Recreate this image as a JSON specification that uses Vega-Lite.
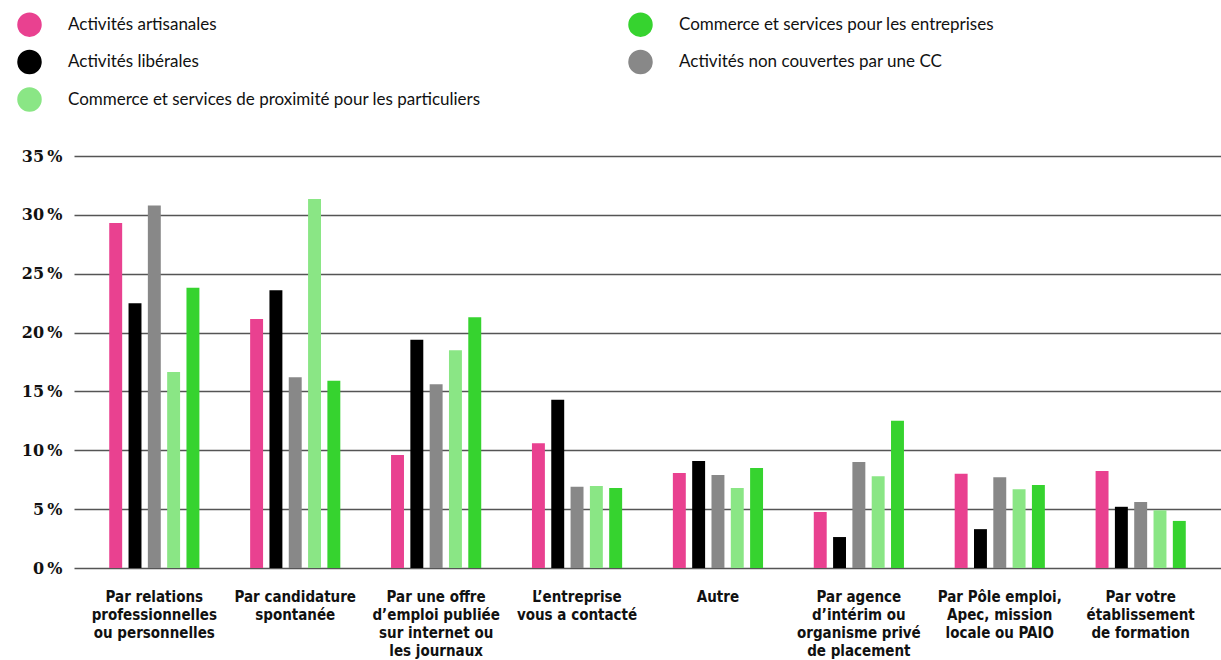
{
  "$schema": "https://vega.github.io/schema/vega-lite/v6.json",
  "width": 1147,
  "height": 412,
  "autosize": "none",
  "padding": {"left": 74, "top": 156, "right": 0, "bottom": 92},
  "background": "white",
  "config": {"view": {"stroke": null}},
  "datasets": {
    "d": [
      {"cat": "Par relations|professionnelles|ou personnelles", "serie": "Activités artisanales", "v": 29.3},
      {"cat": "Par relations|professionnelles|ou personnelles", "serie": "Activités libérales", "v": 22.5},
      {"cat": "Par relations|professionnelles|ou personnelles", "serie": "Activités non couvertes par une CC", "v": 30.8},
      {"cat": "Par relations|professionnelles|ou personnelles", "serie": "Commerce et services de proximité pour les particuliers", "v": 16.65},
      {"cat": "Par relations|professionnelles|ou personnelles", "serie": "Commerce et services pour les entreprises", "v": 23.8},
      {"cat": "Par candidature|spontanée", "serie": "Activités artisanales", "v": 21.15},
      {"cat": "Par candidature|spontanée", "serie": "Activités libérales", "v": 23.6},
      {"cat": "Par candidature|spontanée", "serie": "Activités non couvertes par une CC", "v": 16.2},
      {"cat": "Par candidature|spontanée", "serie": "Commerce et services de proximité pour les particuliers", "v": 31.35},
      {"cat": "Par candidature|spontanée", "serie": "Commerce et services pour les entreprises", "v": 15.9},
      {"cat": "Par une offre|d’emploi publiée|sur internet ou|les journaux", "serie": "Activités artisanales", "v": 9.6},
      {"cat": "Par une offre|d’emploi publiée|sur internet ou|les journaux", "serie": "Activités libérales", "v": 19.4},
      {"cat": "Par une offre|d’emploi publiée|sur internet ou|les journaux", "serie": "Activités non couvertes par une CC", "v": 15.6},
      {"cat": "Par une offre|d’emploi publiée|sur internet ou|les journaux", "serie": "Commerce et services de proximité pour les particuliers", "v": 18.5},
      {"cat": "Par une offre|d’emploi publiée|sur internet ou|les journaux", "serie": "Commerce et services pour les entreprises", "v": 21.3},
      {"cat": "L’entreprise|vous a contacté", "serie": "Activités artisanales", "v": 10.6},
      {"cat": "L’entreprise|vous a contacté", "serie": "Activités libérales", "v": 14.3},
      {"cat": "L’entreprise|vous a contacté", "serie": "Activités non couvertes par une CC", "v": 6.9},
      {"cat": "L’entreprise|vous a contacté", "serie": "Commerce et services de proximité pour les particuliers", "v": 6.97},
      {"cat": "L’entreprise|vous a contacté", "serie": "Commerce et services pour les entreprises", "v": 6.8},
      {"cat": "Autre", "serie": "Activités artisanales", "v": 8.07},
      {"cat": "Autre", "serie": "Activités libérales", "v": 9.1},
      {"cat": "Autre", "serie": "Activités non couvertes par une CC", "v": 7.9},
      {"cat": "Autre", "serie": "Commerce et services de proximité pour les particuliers", "v": 6.8},
      {"cat": "Autre", "serie": "Commerce et services pour les entreprises", "v": 8.5},
      {"cat": "Par agence|d’intérim ou|organisme privé|de placement", "serie": "Activités artisanales", "v": 4.76},
      {"cat": "Par agence|d’intérim ou|organisme privé|de placement", "serie": "Activités libérales", "v": 2.63},
      {"cat": "Par agence|d’intérim ou|organisme privé|de placement", "serie": "Activités non couvertes par une CC", "v": 9.0},
      {"cat": "Par agence|d’intérim ou|organisme privé|de placement", "serie": "Commerce et services de proximité pour les particuliers", "v": 7.8},
      {"cat": "Par agence|d’intérim ou|organisme privé|de placement", "serie": "Commerce et services pour les entreprises", "v": 12.5},
      {"cat": "Par Pôle emploi,|Apec, mission|locale ou PAIO", "serie": "Activités artisanales", "v": 8.0},
      {"cat": "Par Pôle emploi,|Apec, mission|locale ou PAIO", "serie": "Activités libérales", "v": 3.3},
      {"cat": "Par Pôle emploi,|Apec, mission|locale ou PAIO", "serie": "Activités non couvertes par une CC", "v": 7.7},
      {"cat": "Par Pôle emploi,|Apec, mission|locale ou PAIO", "serie": "Commerce et services de proximité pour les particuliers", "v": 6.7},
      {"cat": "Par Pôle emploi,|Apec, mission|locale ou PAIO", "serie": "Commerce et services pour les entreprises", "v": 7.05},
      {"cat": "Par votre|établissement|de formation", "serie": "Activités artisanales", "v": 8.24},
      {"cat": "Par votre|établissement|de formation", "serie": "Activités libérales", "v": 5.2},
      {"cat": "Par votre|établissement|de formation", "serie": "Activités non couvertes par une CC", "v": 5.6},
      {"cat": "Par votre|établissement|de formation", "serie": "Commerce et services de proximité pour les particuliers", "v": 4.9},
      {"cat": "Par votre|établissement|de formation", "serie": "Commerce et services pour les entreprises", "v": 4.0}
    ]
  },
  "data": {"name": "d"},
  "mark": {"type": "bar"},
  "encoding": {
    "x": {
      "field": "cat",
      "type": "nominal",
      "sort": null,
      "title": null,
      "scale": {"paddingInner": 0.36, "paddingOuter": 0.25},
      "axis": {
        "labelAngle": 0,
        "labelExpr": "split(datum.value, '|')",
        "labelFont": "Liberation Sans Narrow, DejaVu Sans Condensed, sans-serif",
        "labelFontWeight": "bold",
        "labelFontSize": 15,
        "labelLineHeight": 18,
        "labelColor": "#111111",
        "labelPadding": 21,
        "labelBaseline": "top",
        "ticks": false,
        "domain": false
      }
    },
    "xOffset": {
      "field": "serie",
      "type": "nominal",
      "sort": ["Activités artisanales", "Activités libérales", "Activités non couvertes par une CC", "Commerce et services de proximité pour les particuliers", "Commerce et services pour les entreprises"],
      "scale": {"paddingInner": 0.33, "paddingOuter": 0}
    },
    "y": {
      "field": "v",
      "type": "quantitative",
      "title": null,
      "scale": {"domain": [0, 35], "nice": false},
      "axis": {
        "values": [0, 5, 10, 15, 20, 25, 30, 35],
        "labelExpr": "datum.value + '\u2009%'",
        "labelFont": "DejaVu Serif",
        "labelFontWeight": "bold",
        "labelFontSize": 16,
        "labelColor": "#111111",
        "labelPadding": 12,
        "ticks": false,
        "domain": false,
        "grid": true,
        "gridColor": "#555555",
        "gridWidth": 1.5
      }
    },
    "color": {
      "field": "serie",
      "type": "nominal",
      "scale": {
        "domain": ["Activités artisanales", "Activités libérales", "Commerce et services de proximité pour les particuliers", "Commerce et services pour les entreprises", "Activités non couvertes par une CC"],
        "range": ["#e94190", "#000000", "#8ae685", "#36d32f", "#888888"]
      },
      "legend": {
        "title": null,
        "orient": "none",
        "legendX": -57,
        "legendY": -144,
        "columns": 2,
        "columnPadding": 147,
        "rowPadding": 12.5,
        "symbolType": "circle",
        "symbolSize": 600,
        "symbolStrokeWidth": 0,
        "labelOffset": 26,
        "labelFont": "Lato",
        "labelFontSize": 17,
        "labelColor": "#111111",
        "labelLimit": 600
      }
    }
  }
}
